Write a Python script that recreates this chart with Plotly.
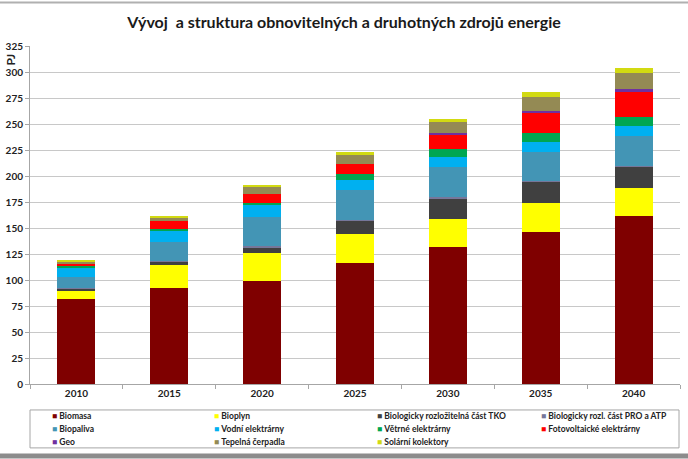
import plotly.graph_objects as go

# Years (categories)
years = ['2010', '2015', '2020', '2025', '2030', '2035', '2040']

# Values in PJ, one list per source
biomasa = [82, 92.6, 99, 116, 132, 146.5, 161.8]
bioplyn = [7.5, 21.8, 27.2, 28, 26.6, 27.3, 26.3]
bio_tko = [2, 3, 5.5, 13, 20, 20.7, 20.7]
bio_pro_atp = [0.8, 0.8, 0.9, 1, 1, 1, 1]
biopaliva = [11, 18, 28.4, 28.2, 29.5, 27.9, 28.5]
vodni = [9, 11, 11, 10.3, 9.6, 9.6, 9.9]
vetrne = [1, 2, 2.5, 5.8, 7.1, 8, 8.7]
fotovolt = [3, 7.4, 8.2, 9.6, 14.4, 20.2, 24]
geo = [0, 0, 0, 0, 0.8, 1.6, 3.2]
tepelna = [1.5, 3.6, 7.5, 8.7, 10.6, 13.5, 15]
solarni = [0.5, 0.5, 1, 2.5, 3.2, 4.8, 5.1]

series = [
    ('Biomasa', biomasa, '#7F0000'),
    ('Bioplyn', bioplyn, '#FFFF00'),
    ('Biologicky rozložitelná část TKO', bio_tko, '#404040'),
    ('Biologicky rozl. část PRO a ATP', bio_pro_atp, '#76779A'),
    ('Biopaliva', biopaliva, '#4395B5'),
    ('Vodní elektrárny', vodni, '#00B0F0'),
    ('Větrné elektrárny', vetrne, '#00A651'),
    ('Fotovoltaické elektrárny', fotovolt, '#FF0000'),
    ('Geo', geo, '#7030A0'),
    ('Tepelná čerpadla', tepelna, '#948A54'),
    ('Solární kolektory', solarni, '#D2DA12'),
]

font_family = 'Lato, Open Sans, sans-serif'

# plot area in pixels (used to place the hand made legend and frame)
W, H = 688, 459
ML, MR, MT, MB = 30, 8, 45.5, 75
PW, PH = W - ML - MR, H - MT - MB


def px(x):
    return (x - ML) / PW


def py(y):
    return (H - MB - y) / PH


data = [go.Bar(x=years, y=vals, name=name, marker=dict(color=col, line=dict(width=0)))
        for name, vals, col in series]

fig = go.Figure(data)

fig.update_layout(
    width=W, height=H,
    margin=dict(l=ML, r=MR, t=MT, b=MB, autoexpand=False),
    paper_bgcolor='white', plot_bgcolor='white',
    barmode='stack', bargap=0.59,
    font=dict(family=font_family, size=10, color='#222222'),
    title=dict(text='<b>Vývoj\u00a0 a struktura obnovitelných a druhotných zdrojů energie</b>',
               x=0.5, xref='container', xanchor='center', y=0.952, yanchor='middle',
               font=dict(family=font_family, size=16, color='#1a1a1a')),
    showlegend=False,
)

fig.update_xaxes(
    showline=True, linecolor='#A6A6A6', linewidth=1,
    ticks='outside', tickson='boundaries', ticklen=4, tickcolor='#A6A6A6',
    tickfont=dict(family=font_family, size=10, weight='bold'),
    showgrid=False,
)
fig.update_yaxes(
    range=[0, 325], dtick=25, tick0=0,
    showline=True, linecolor='#A6A6A6', linewidth=1,
    ticks='outside', ticklen=4, tickcolor='#A6A6A6',
    tickfont=dict(family=font_family, size=10, weight='bold'),
    showgrid=True, gridcolor='#C8C8C8', gridwidth=1,
    zeroline=False,
)

# Axis unit label
fig.add_annotation(text='<b>PJ</b>', xref='paper', yref='paper', x=px(10), y=py(59),
                   xanchor='center', yanchor='middle',
                   showarrow=False, textangle=-90, bgcolor='white',
                   font=dict(family=font_family, size=12, color='#222222'))

# Legend: 4 columns, 3 rows inside a grey box
fig.add_shape(type='rect', xref='paper', yref='paper',
              x0=px(30), x1=px(679), y0=py(410), y1=py(448),
              line=dict(color='#A6A6A6', width=1), fillcolor='white')
col_x = [50, 212, 375, 539]
row_y = [416, 429, 442]
for i, (name, vals, col) in enumerate(series):
    fig.add_annotation(
        text='<span style="color:%s">■</span> <b>%s</b>' % (col, name),
        xref='paper', yref='paper', x=px(col_x[i % 4]), y=py(row_y[i // 4]),
        xanchor='left', yanchor='middle', showarrow=False,
        font=dict(family=font_family, size=8.5, color='#222222'))

# Grey frame lines at top and bottom of the picture
fig.add_shape(type='line', xref='paper', yref='paper', x0=px(0), x1=px(W), y0=py(2), y1=py(2),
              line=dict(color='#B0B0B0', width=2))
fig.add_shape(type='line', xref='paper', yref='paper', x0=px(0), x1=px(W), y0=py(456), y1=py(456),
              line=dict(color='#8C8C8C', width=5))

# page has a default body margin, drop it so the chart fills the window
fig.write_html('out.html', config={'displayModeBar': False},
               post_script="document.body.style.margin='0';")
